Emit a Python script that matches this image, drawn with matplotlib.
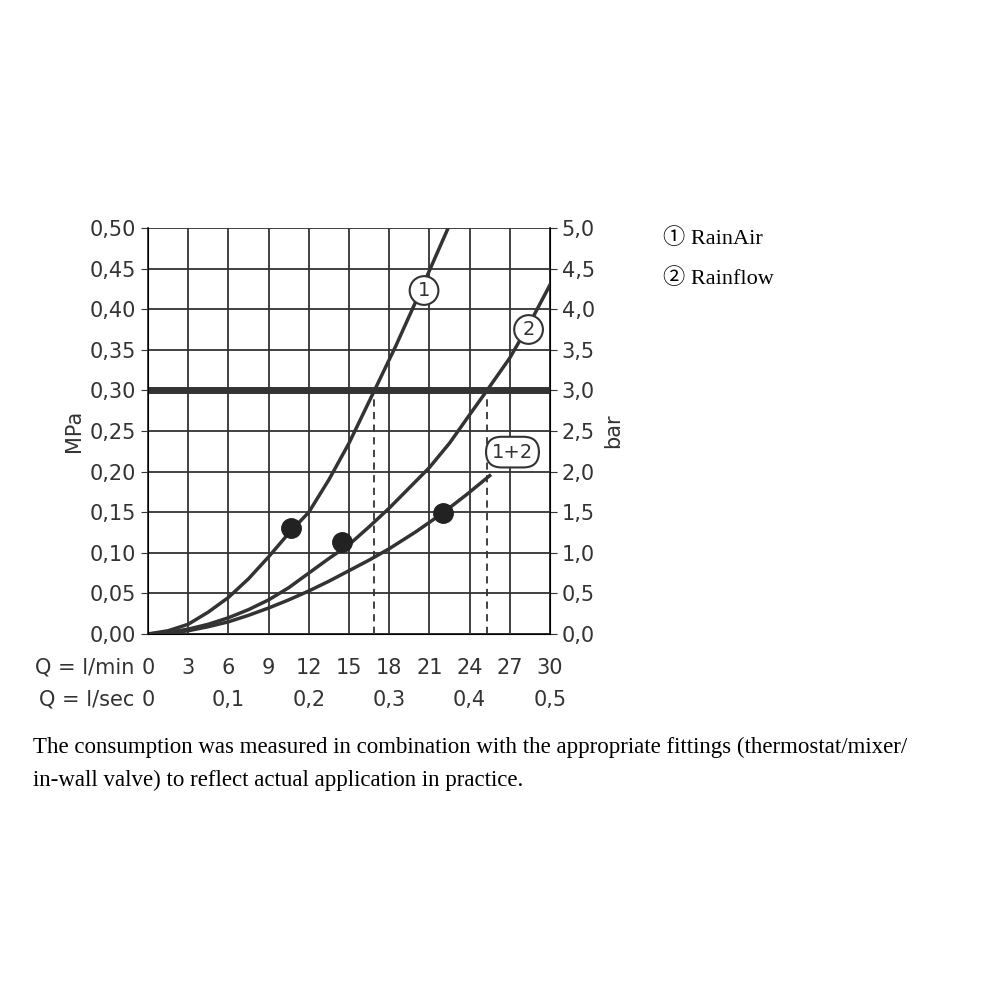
import matplotlib.pyplot as plt
from matplotlib.transforms import blended_transform_factory

# flow in l/min, pressure in MPa
q1 = [0, 1.5, 3, 4.5, 6, 7.5, 9, 10.5, 12, 13.5, 15, 16.9, 18.5, 20, 21.2, 22.4]
p1 = [0, 0.004, 0.012, 0.027, 0.045, 0.068, 0.095, 0.124, 0.15, 0.19, 0.235, 0.30, 0.355, 0.41, 0.455, 0.50]
q2 = [0, 1.5, 3, 4.5, 6, 7.5, 9, 10.5, 12, 13.5, 15, 16.5, 18, 19.5, 21, 22.5, 24, 25.3, 27, 28.5, 30]
p2 = [0, 0.002, 0.006, 0.012, 0.02, 0.03, 0.042, 0.057, 0.075, 0.093, 0.11, 0.132, 0.155, 0.18, 0.205, 0.235,
      0.27, 0.30, 0.34, 0.383, 0.43]
q12 = [0, 1.5, 3, 4.5, 6, 7.5, 9, 10.5, 12, 13.5, 15, 16.5, 18, 20, 22, 23.8, 25.5]
p12 = [0, 0.001, 0.004, 0.009, 0.015, 0.023, 0.032, 0.042, 0.053, 0.065, 0.078, 0.091, 0.105, 0.126, 0.149,
       0.172, 0.195]
dots_q = [10.7, 14.5, 22.0]
dots_p = [0.13, 0.113, 0.149]
cross_q = [16.9, 25.3]

lmin_ticks = [0, 3, 6, 9, 12, 15, 18, 21, 24, 27, 30]
lsec_ticks = [0, 6, 12, 18, 24, 30]
lsec_labels = ['0', '0,1', '0,2', '0,3', '0,4', '0,5']
mpa_ticks = [i * 0.05 for i in range(11)]

plt.rcParams['font.family'] = ['DejaVu Sans']
fig = plt.figure(figsize=(10, 10), dpi=100)
ax = fig.add_axes([0.148, 0.366, 0.402, 0.406])
c = '#333333'

ax.set_xlim(0, 30)
ax.set_ylim(0, 0.5)
ax.set_xticks(lmin_ticks)
ax.set_xticklabels([])
ax.set_yticks(mpa_ticks)
ax.set_yticklabels([f'{v:.2f}'.replace('.', ',') for v in mpa_ticks], fontsize=15, color=c)
ax.tick_params(axis='x', length=0)
ax.tick_params(axis='y', length=5, color=c)
ax.grid(True, color=c, lw=1.3)
for s in ax.spines.values():
    s.set_color(c)
    s.set_linewidth(1.3)
ax.spines['top'].set_visible(False)
ax.set_ylabel('MPa', fontsize=15, color=c, labelpad=4)

ax2 = ax.twinx()
ax2.set_ylim(0, 5)
ax2.set_yticks([i * 0.5 for i in range(11)])
ax2.set_yticklabels([f'{v * 0.5:.1f}'.replace('.', ',') for v in range(11)], fontsize=15, color=c)
ax2.tick_params(axis='y', length=5, color=c)
ax2.spines['top'].set_visible(False)
ax2.set_ylabel('bar', fontsize=15, color=c, labelpad=6)

ax.axhline(0.30, color=c, lw=5, zorder=3)
for q in cross_q:
    ax.plot([q, q], [0, 0.30], color=c, lw=1.3, ls=(0, (4, 3)), zorder=3)

ax.plot(q1, p1, color=c, lw=2.5, zorder=4)
ax.plot(q2, p2, color=c, lw=2.5, zorder=4)
ax.plot(q12, p12, color=c, lw=2.5, zorder=4)
ax.plot(dots_q, dots_p, 'o', color='#222222', ms=14, zorder=5)

box = dict(boxstyle='circle,pad=0.25', fc='white', ec=c, lw=1.5)
ax.text(20.6, 0.423, '1', fontsize=14, color=c, ha='center', va='center', bbox=box, zorder=6)
ax.text(28.4, 0.375, '2', fontsize=14, color=c, ha='center', va='center', bbox=box, zorder=6)
ax.text(27.2, 0.224, '1+2', fontsize=14, color=c, ha='center', va='center', zorder=6,
        bbox=dict(boxstyle='round,pad=0.3,rounding_size=0.8', fc='white', ec=c, lw=1.5))

tr = blended_transform_factory(ax.transData, fig.transFigure)
for q in lmin_ticks:
    ax.text(q, 1 - 668 / 1000, str(q), transform=tr, fontsize=15, color=c, ha='center', va='center')
for q, lab in zip(lsec_ticks, lsec_labels):
    ax.text(q, 1 - 700 / 1000, lab, transform=tr, fontsize=15, color=c, ha='center', va='center')
fig.text(0.134, 1 - 668 / 1000, 'Q = l/min', fontsize=15, color=c, ha='right', va='center')
fig.text(0.134, 1 - 700 / 1000, 'Q = l/sec', fontsize=15, color=c, ha='right', va='center')

serif = ['Liberation Serif', 'Noto Sans CJK SC', 'DejaVu Sans']
fig.text(0.663, 1 - 239 / 1000, '① RainAir', fontsize=16, family=serif, va='center')
fig.text(0.663, 1 - 279 / 1000, '② Rainflow', fontsize=16, family=serif, va='center')
fig.text(0.033, 1 - 747 / 1000,
         'The consumption was measured in combination with the appropriate fittings (thermostat/mixer/',
         fontsize=16.5, family=serif, va='center')
fig.text(0.033, 1 - 780 / 1000, 'in-wall valve) to reflect actual application in practice.',
         fontsize=16.5, family=serif, va='center')

fig.savefig('out.png', dpi=100)
